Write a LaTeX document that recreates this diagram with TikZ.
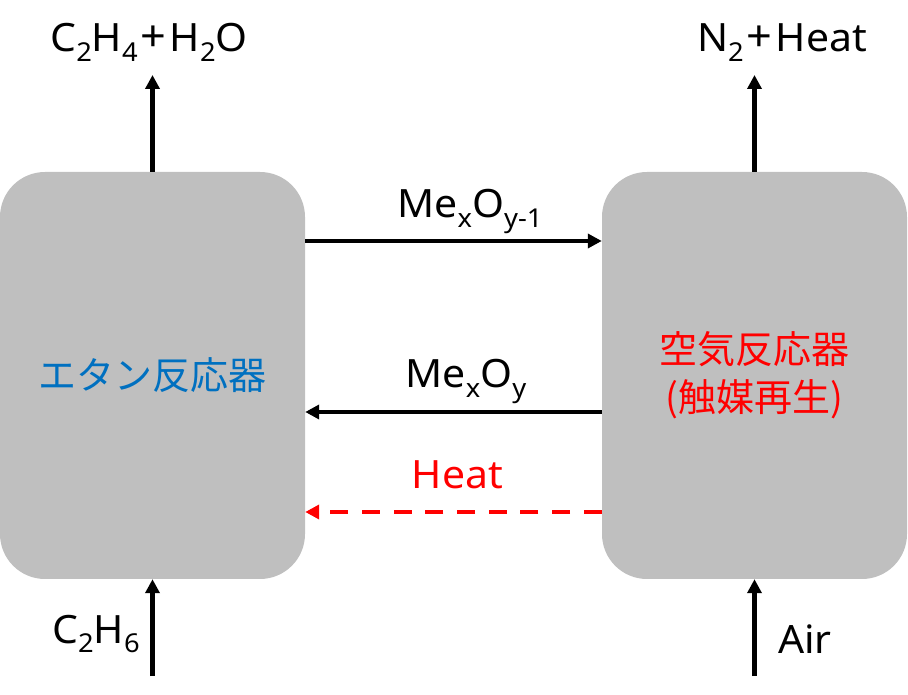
\documentclass[tikz,border=0pt]{standalone}
\usepackage{fontspec}
\setmainfont{Noto Sans}[FakeStretch=1.05]
\newfontfamily\jp{Noto Sans CJK JP}
\usetikzlibrary{arrows.meta}
\definecolor{boxgray}{HTML}{BFBFBF}
\definecolor{jpblue}{HTML}{0070C0}
\definecolor{heatred}{HTML}{FF0000}
\newcommand{\sbs}[1]{\raisebox{-9.5pt}{\fontsize{26pt}{26pt}\selectfont #1}}
\newcommand{\pls}{\kern3pt{\fontsize{43pt}{43pt}\selectfont +}\kern3pt}
\begin{document}
\begin{tikzpicture}[x=1pt,y=1pt,
  reactor/.style={fill=boxgray, draw=none, rounded corners=45pt,
    minimum width=305pt, minimum height=407pt, inner sep=0pt,
    font=\jp\fontsize{38pt}{48pt}\selectfont, align=center},
  lbl/.style={inner sep=0pt, font=\fontsize{39pt}{46pt}\selectfont},
  flow/.style={line width=4.5pt, -{Triangle[length=14pt,width=14pt]}},
  heatflow/.style={flow, draw=heatred, dash pattern=on 18pt off 13.7pt}
]
\useasboundingbox (0,0) rectangle (908,694);

% reactors
\node[reactor, text=jpblue] (L) at (152.5,318.5) {エタン反応器};
\node[reactor, text=heatred] (R) at (754.5,318.5) {空気反応器\\(触媒再生)};

% free ends of vertical streams
\coordinate (Ltop) at (152.5,619);
\coordinate (Rtop) at (754.5,619);
\coordinate (Lbot) at (152.5,18);
\coordinate (Rbot) at (754.5,18);

% vertical streams
\draw[flow] (L.north) -- (Ltop);
\draw[flow] (R.north) -- (Rtop);
\draw[flow] (Lbot) -- (L.south);
\draw[flow] (Rbot) -- (R.south);

% horizontal streams
\draw[flow] ([yshift=134.5pt]L.east) -- ([yshift=134.5pt]R.west);
\draw[flow] ([yshift=-36.5pt]R.west) -- ([yshift=-36.5pt]L.east);
\draw[heatflow] ([yshift=-136.5pt]R.west) -- ([yshift=-136.5pt]L.east);

% labels
\node[lbl, anchor=base] (t1) at (149,642) {C\sbs{2}H\sbs{4}\pls H\sbs{2}O};
\node[lbl, anchor=base] (t2) at (782,642) {N\sbs{2}\pls Heat};
\node[lbl, anchor=base] (t3) at (470,476) {Me\sbs{x}O\sbs{y-1}};
\node[lbl, anchor=base] (t4) at (466,306) {Me\sbs{x}O\sbs{y}};
\node[lbl, anchor=base, text=heatred] (t5) at (457.5,205) {Heat};
\node[lbl, anchor=base east] (t6) at (140,51) {C\sbs{2}H\sbs{6}};
\node[lbl, anchor=base west] (t7) at (778,41) {Air};
\end{tikzpicture}
\end{document}
